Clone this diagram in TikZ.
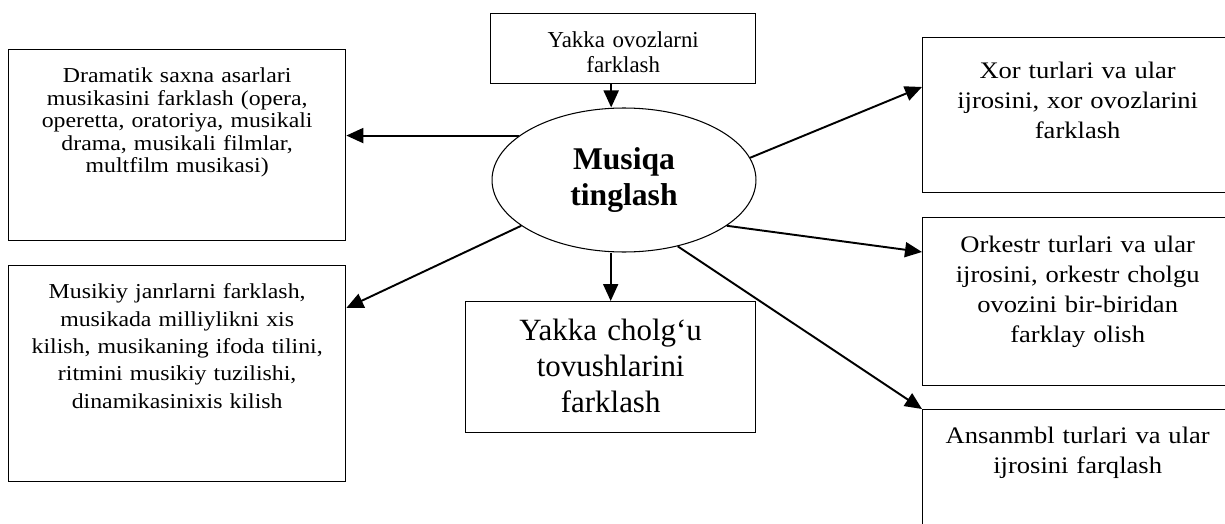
\documentclass[tikz,border=0pt]{standalone}
\usepackage{fontspec}
\setmainfont{Liberation Serif}
\newfontfamily\boxfont[FakeStretch=1.12]{Liberation Serif}
\usetikzlibrary{shapes.geometric,arrows.meta}

\begin{document}
\begin{tikzpicture}[x=0.02cm,y=-0.02cm,
  box/.style={draw,line width=0.8pt,anchor=north west,inner sep=0pt,align=center},
  sidebox/.style={box,text width=6.2cm,font=\boxfont\fontsize{13.5}{17}\selectfont},
  arr/.style={-{Triangle[length=0.34cm,width=0.3cm]},line width=1.1pt}]
\useasboundingbox (0,0) rectangle (1225,524);
% centre
\node[draw,ellipse,line width=0.6pt,minimum width=5.28cm,minimum height=2.88cm,inner sep=0pt,
  align=center,font=\bfseries\fontsize{18}{20}\selectfont] (ell) at (624,180) {Musiqa\\tinglash};
% top and bottom
\node[box,text width=5.3cm,text height=0.68cm,text depth=0.72cm,
  font=\fontsize{13}{14.2}\selectfont] (ovoz) at (490,13) {Yakka ovozlarni\\farklash};
\node[box,text width=5.8cm,text height=0.78cm,text depth=1.84cm,
  font=\fontsize{17.6}{20.5}\selectfont] (chol) at (465,301) {Yakka cholg‘u\\tovushlarini\\farklash};
% left
\node[box,text width=6.74cm,text height=0.66cm,text depth=3.16cm,
  font=\boxfont\fontsize{12.1}{12.8}\selectfont] (dram) at (8,49)
  {Dramatik saxna asarlari\\musikasini farklash (opera,\\operetta, oratoriya, musikali\\drama, musikali filmlar,\\multfilm musikasi)};
\node[box,text width=6.74cm,text height=0.66cm,text depth=3.66cm,
  font=\boxfont\fontsize{12.1}{15.6}\selectfont] (janr) at (8,265)
  {Musikiy janrlarni farklash,\\musikada milliylikni xis\\kilish, musikaning ifoda tilini,\\ritmini musikiy tuzilishi,\\dinamikasinixis kilish};
% right
\node[sidebox,text height=0.82cm,text depth=2.28cm] (xor) at (922,37)
  {Xor turlari va ular\\ijrosini, xor ovozlarini\\farklash};
\node[sidebox,text height=0.70cm,text depth=2.66cm] (orke) at (922,217)
  {Orkestr turlari va ular\\ijrosini, orkestr cholgu\\ovozini bir-biridan\\farklay olish};
\node[sidebox,text height=0.68cm,text depth=2.34cm] (ansa) at (922,409)
  {Ansanmbl turlari va ular\\ijrosini farqlash};
% arrows
\draw[arr] ([xshift=-0.24cm]ovoz.south) -- ([xshift=-0.24cm]ovoz.south |- ell.north);
\draw[arr] (chol.north |- ell.south) -- (chol.north);
\draw[arr] (ell.157) -- (ell.157 -| dram.east);
\draw[arr] (ell.204) -- ([yshift=-0.86cm]janr.north east);
\draw[arr] (ell.10) -- ([yshift=-1cm]xor.north west);
\draw[arr] (ell.336) -- ([yshift=-0.7cm]orke.north west);
\draw[arr] (ell.309) -- (ansa.north west);
\end{tikzpicture}
\end{document}
